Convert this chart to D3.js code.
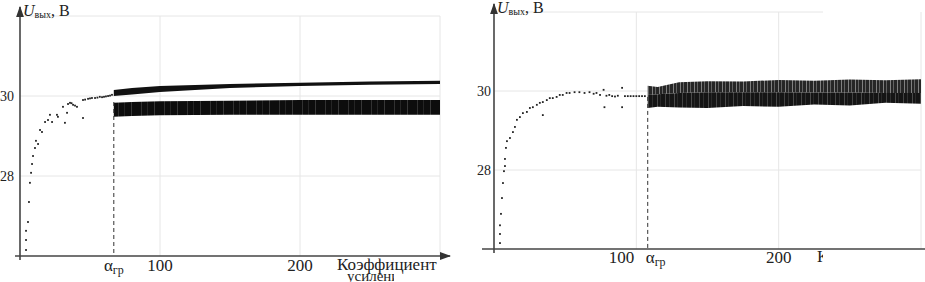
<!DOCTYPE html>
<html>
<head>
<meta charset="utf-8">
<script src="https://cdn.jsdelivr.net/npm/d3@7"></script>
<style>
  body { margin: 0; background: #fff; }
</style>
</head>
<body>
<svg id="chart" width="925" height="282"></svg>
<script>
// ---- data (k = коэффициент усиления, U = U вых, В) ----
const yTicks = [28, 30];
const xTicks = [100, 200];
const gridX = [100, 200, 300];

// left panel
const leftAlpha = 67;
const leftPoints = [
  [4.3, 26.15], [4.3, 26.4], [4.3, 26.63], [5.7, 26.85], [6.4, 27.35], [7.1, 27.83],
  [7.9, 28.08], [8.6, 28.3], [9.3, 28.5], [10.7, 28.7], [11.4, 28.88], [12.9, 28.8],
  [14.3, 29.15], [15.7, 29.1], [17.9, 29.35], [20, 29.4], [21.4, 29.53], [22.9, 29.35],
  [26.4, 29.53], [27.1, 29.48], [30.7, 29.73], [32.1, 29.33], [33.6, 29.58], [34.3, 29.8],
  [35.7, 29.83], [36.8, 29.82], [37.9, 29.78], [39.3, 29.76], [40.7, 29.73], [45, 29.9],
  [45, 29.45], [46.5, 29.91], [48.6, 29.93], [50, 29.94], [51.4, 29.95], [53.6, 29.95],
  [55.3, 29.96], [57, 29.98], [58.6, 29.97], [60, 29.98], [61.4, 29.99], [62.9, 30],
  [64.3, 30.01], [65.7, 30.03]
];
// bands: [k, lower U, upper U]
const leftUpperBand = [
  [67, 30.0, 30.15], [80, 30.04, 30.2], [100, 30.1, 30.25], [150, 30.2, 30.3],
  [200, 30.25, 30.33], [250, 30.28, 30.36], [300, 30.3, 30.38]
];
const leftLowerBand = [
  [67, 29.48, 29.83], [80, 29.5, 29.85], [100, 29.52, 29.87], [150, 29.53, 29.88],
  [200, 29.53, 29.9], [250, 29.53, 29.9], [300, 29.53, 29.9]
];

// right panel
const rightAlpha = 108;
const rightPoints = [
  [4.2, 26.15], [4.2, 26.38], [4.2, 26.6], [4.9, 26.89], [5.6, 27.29], [6.3, 27.67],
  [7, 27.97], [7.7, 28.1], [7.7, 28.28], [8.4, 28.56], [9.1, 28.73], [11.2, 28.81],
  [13.3, 28.96], [14.7, 29.09], [16.1, 29.27], [18.2, 29.34], [20.3, 29.44], [23.1, 29.47],
  [25.2, 29.57], [27.3, 29.59], [30.1, 29.65], [32.2, 29.7], [34.3, 29.72], [34.3, 29.39],
  [37.1, 29.77], [39.2, 29.82], [41.3, 29.82], [44, 29.85], [46.2, 29.9], [48.3, 29.9],
  [51, 29.95], [53.1, 29.95], [56.6, 29.97], [60, 29.97], [63.6, 29.95], [67.1, 29.97],
  [70, 29.93], [72, 29.95], [74.5, 29.9], [77, 30.03], [77.6, 29.59], [79, 29.88],
  [81, 29.9], [83, 29.87], [85, 29.86], [87, 29.88], [90, 30.08], [90, 29.59],
  [92, 29.87], [94, 29.87], [96, 29.87], [98, 29.87], [100, 29.87], [102, 29.87],
  [104, 29.87], [106, 29.87]
];
const rightLightBand = [
  [108, 29.9, 30.13], [115, 29.92, 30.1], [130, 29.95, 30.22], [150, 29.97, 30.25],
  [175, 29.97, 30.24], [200, 29.97, 30.28], [225, 29.96, 30.26], [250, 29.96, 30.29],
  [275, 29.95, 30.27], [300, 29.95, 30.3]
];
const rightDarkBand = [
  [108, 29.57, 29.9], [115, 29.6, 29.92], [130, 29.58, 29.95], [150, 29.57, 29.97],
  [175, 29.62, 29.97], [200, 29.6, 29.97], [225, 29.66, 29.96], [250, 29.63, 29.96],
  [275, 29.7, 29.95], [300, 29.68, 29.95]
];

const FONT = "'Liberation Serif', 'DejaVu Serif', 'Times New Roman', Times, serif";

const svg = d3.select('#chart');
const defs = svg.append('defs');

// arrow head
defs.append('marker')
  .attr('id', 'arrow')
  .attr('viewBox', '0 0 10 10')
  .attr('refX', 9).attr('refY', 5)
  .attr('markerWidth', 7).attr('markerHeight', 7)
  .attr('orient', 'auto')
  .append('path')
  .attr('d', 'M0,1.5 L10,5 L0,8.5 Z')
  .attr('fill', '#333');

// streaky fills for the dense bands
function streakPattern(id, base, streak, w, stripes) {
  const p = defs.append('pattern')
    .attr('id', id)
    .attr('patternUnits', 'userSpaceOnUse')
    .attr('width', w).attr('height', 40);
  p.append('rect').attr('width', w).attr('height', 40).attr('fill', base);
  stripes.forEach(s => {
    p.append('rect')
      .attr('x', s[0]).attr('y', 0)
      .attr('width', s[1]).attr('height', 40)
      .attr('fill', streak)
      .attr('opacity', s[2]);
  });
}
streakPattern('leftStreak', '#0d0d0d', '#888', 23, [[3, 1, 0.3], [9, 1, 0.2], [16, 1, 0.35]]);
streakPattern('rightDark', '#151515', '#999', 17, [[2, 1, 0.35], [6, 1, 0.2], [11, 1, 0.4], [14, 1, 0.15]]);
streakPattern('rightLight', '#262626', '#eee', 7, [[1, 1, 0.45], [4, 1, 0.3]]);

function drawPanel(cfg) {
  const x = d3.scaleLinear().domain([0, 300]).range(cfg.xRange);
  const y = d3.scaleLinear().domain([26, 32]).range(cfg.yRange);
  const g = svg.append('g').attr('font-family', FONT);

  // grid
  g.selectAll('.gx').data(gridX).join('line')
    .attr('x1', d => x(d)).attr('x2', d => x(d))
    .attr('y1', y(32)).attr('y2', y(26))
    .attr('stroke', '#e6e6e6').attr('stroke-width', 1);
  g.selectAll('.gy').data(yTicks.concat([32])).join('line')
    .attr('x1', x(0)).attr('x2', d => d === 32 ? cfg.topGridEnd : x(300))
    .attr('y1', d => y(d)).attr('y2', d => y(d))
    .attr('stroke', '#e6e6e6').attr('stroke-width', 1);

  // bands
  const area = d3.area()
    .x(d => x(d[0]))
    .y0(d => y(d[1]))
    .y1(d => y(d[2]));
  cfg.bands.forEach(b => {
    g.append('path')
      .datum(b.data)
      .attr('d', area)
      .attr('fill', b.fill);
  });

  // points before the threshold
  g.selectAll('.pt').data(cfg.points).join('rect')
    .attr('x', d => x(d[0]) - 0.9)
    .attr('y', d => y(d[1]) - 0.9)
    .attr('width', 1.8).attr('height', 1.8)
    .attr('fill', '#222');

  // threshold dashed line
  g.append('line')
    .attr('x1', x(cfg.alpha)).attr('x2', x(cfg.alpha))
    .attr('y1', y(29.85)).attr('y2', y(26))
    .attr('stroke', '#333').attr('stroke-width', 1)
    .attr('stroke-dasharray', '4,3');

  // axes
  g.append('line')
    .attr('x1', cfg.xAxisStart).attr('x2', cfg.xAxisEnd)
    .attr('y1', y(26)).attr('y2', y(26))
    .attr('stroke', '#444').attr('stroke-width', 1.6)
    .attr('marker-end', cfg.xArrow ? 'url(#arrow)' : null);
  g.append('line')
    .attr('x1', x(0)).attr('x2', x(0))
    .attr('y1', y(26) + 4).attr('y2', cfg.yAxisTop)
    .attr('stroke', '#444').attr('stroke-width', 1.6)
    .attr('marker-end', 'url(#arrow)');

  // y tick labels
  g.selectAll('.yl').data(yTicks).join('text')
    .attr('x', x(0) - cfg.yLabelGap)
    .attr('y', d => y(d) + 5)
    .attr('text-anchor', 'end')
    .attr('font-size', 15)
    .attr('textLength', 14)
    .attr('lengthAdjust', 'spacingAndGlyphs')
    .attr('fill', '#222')
    .text(d => d);

  // x tick labels
  g.selectAll('.xl').data(xTicks).join('text')
    .attr('x', d => x(d) + (d === 100 ? cfg.x100Shift : 0))
    .attr('y', cfg.xLabelY)
    .attr('text-anchor', d => d === 100 ? cfg.x100Anchor : 'middle')
    .attr('font-size', 17)
    .attr('fill', '#222')
    .text(d => d);

  // alpha label
  const a = g.append('text')
    .attr('x', x(cfg.alpha) + cfg.alphaShift)
    .attr('y', cfg.xLabelY)
    .attr('text-anchor', cfg.alphaAnchor)
    .attr('font-size', 17)
    .attr('fill', '#222');
  a.append('tspan').text('α');
  a.append('tspan').attr('font-size', 12).attr('dy', 3).text('гр');

  // y axis title
  const t = g.append('text')
    .attr('x', x(0) + 3)
    .attr('y', cfg.titleY)
    .attr('font-size', 16)
    .attr('fill', '#222');
  t.append('tspan').attr('font-style', 'italic').text('U');
  t.append('tspan').attr('font-size', 10).attr('dy', 2).text('вых');
  t.append('tspan').attr('dy', -2).text(', В');

  // x axis title, partly hidden as in the picture
  const clip1 = 'clipA' + cfg.id;
  defs.append('clipPath').attr('id', clip1)
    .append('rect')
    .attr('x', cfg.titleClip[0]).attr('y', 0)
    .attr('width', cfg.titleClip[1]).attr('height', 282);
  g.append('text')
    .attr('clip-path', `url(#${clip1})`)
    .attr('x', cfg.xTitleX)
    .attr('y', cfg.xLabelY - 1)
    .attr('font-size', 17)
    .attr('fill', '#222')
    .text('Коэффициент');
  if (cfg.titleClip[2] > 0) {
    const clip2 = 'clipB' + cfg.id;
    defs.append('clipPath').attr('id', clip2)
      .append('rect')
      .attr('x', cfg.titleClip[0]).attr('y', 0)
      .attr('width', cfg.titleClip[2]).attr('height', 282);
    g.append('text')
      .attr('clip-path', `url(#${clip2})`)
      .attr('x', cfg.xTitleX + 10)
      .attr('y', cfg.xLabelY + 10)
      .attr('font-size', 15)
      .attr('fill', '#222')
      .text('усиления');
  }
}

drawPanel({
  id: 'L',
  xRange: [20, 440],
  yRange: [256, 16],
  topGridEnd: 440,
  points: leftPoints,
  alpha: leftAlpha,
  bands: [
    { data: leftUpperBand, fill: '#111' },
    { data: leftLowerBand, fill: 'url(#leftStreak)' }
  ],
  xAxisStart: 15, xAxisEnd: 450, xArrow: true,
  yAxisTop: 7,
  yLabelGap: 6,
  xLabelY: 271,
  x100Shift: 0, x100Anchor: 'middle',
  alphaShift: 0, alphaAnchor: 'middle',
  titleY: 16,
  xTitleX: 337,
  titleClip: [330, 115, 64]
});

drawPanel({
  id: 'R',
  xRange: [494, 921],
  yRange: [249, 12],
  topGridEnd: 823,
  points: rightPoints,
  alpha: rightAlpha,
  bands: [
    { data: rightLightBand, fill: 'url(#rightLight)' },
    { data: rightDarkBand, fill: 'url(#rightDark)' }
  ],
  xAxisStart: 482, xAxisEnd: 925, xArrow: false,
  yAxisTop: 4,
  yLabelGap: 3,
  xLabelY: 263,
  x100Shift: -2, x100Anchor: 'end',
  alphaShift: -2, alphaAnchor: 'start',
  titleY: 13,
  xTitleX: 817,
  titleClip: [810, 13, 0]
});
</script>
</body>
</html>
